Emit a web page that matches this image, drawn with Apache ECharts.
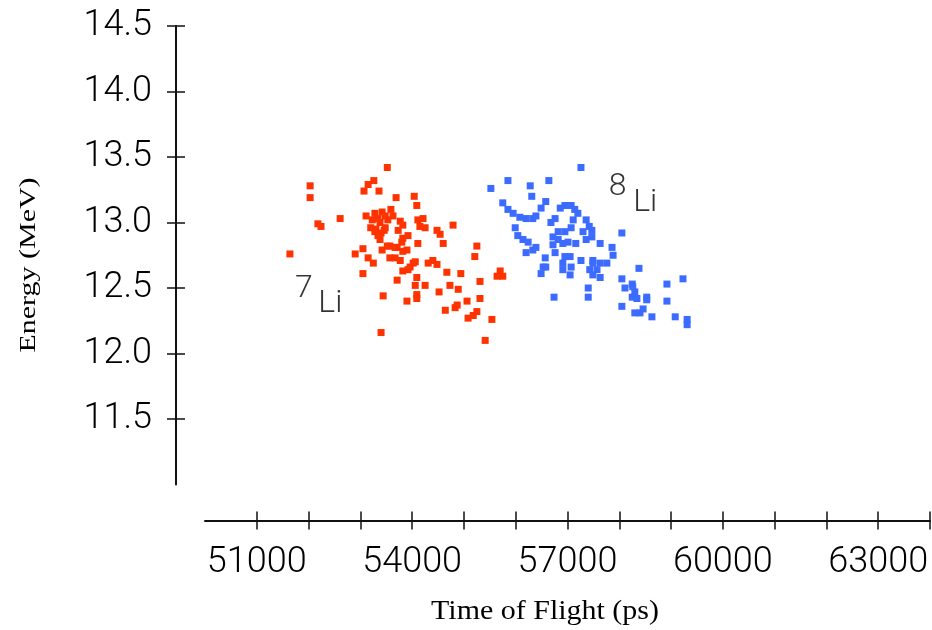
<!DOCTYPE html>
<html>
<head>
<meta charset="utf-8">
<script src="https://cdn.jsdelivr.net/npm/echarts@6/dist/echarts.min.js"></script>
<style>
html,body{margin:0;padding:0;background:#fff;}
#chart{width:932px;height:630px;}
</style>
</head>
<body>
<div id="chart"></div>
<script>
// 7Li events: time of flight (ps) and energy (MeV)
const li7Tof = [51640,52030,52030,52180,52240,52610,53520,53260,53150,53070,53360,53690,54040,54090,53110,53590,53630,53280,53420,53230,
  53380,53530,53300,53460,53340,53770,53730,53820,53820,53920,54110,54210,54250,54150,54480,54540,54600,54790,54110,53570,
  53710,53820,53670,53770,55250,55210,54020,53920,54310,54400,54480,53820,53710,54670,54940,55700,55640,55750,54090,54060,
  54250,54730,54890,55310,54520,54090,54090,53900,55060,55310,54640,54830,54870,55080,55250,55180,55540,55410,53050,53440,
  53400,53050,52900,53150,53250,53380,53520,53670,53800,53900,53280,53420,53480,53570,53960,54060,53340,53480,53200,53400];
const li7Energy = [12.76,13.28,13.19,12.99,12.97,13.03,13.42,13.32,13.29,13.24,13.24,13.19,13.20,13.13,13.05,13.10,13.05,13.07,13.08,13.02,
  13.00,13.02,12.95,12.94,12.90,13.01,12.94,12.98,12.88,12.90,13.02,13.03,12.96,12.97,12.94,12.91,12.84,12.98,12.84,12.82,
  12.81,12.78,12.73,12.71,12.82,12.74,12.69,12.64,12.69,12.71,12.68,12.63,12.56,12.62,12.61,12.63,12.59,12.59,12.58,12.52,
  12.52,12.52,12.49,12.55,12.47,12.45,12.42,12.40,12.40,12.42,12.33,12.35,12.37,12.27,12.32,12.29,12.26,12.10,12.61,12.44,
  12.16,12.80,12.76,12.73,12.69,12.87,12.82,12.81,12.85,12.79,12.93,12.79,12.96,12.73,12.66,12.70,13.03,13.05,12.96,12.92];

// 8Li events
const li8Tof = [57260,55520,55850,56280,56310,56640,56580,56490,55750,55850,55950,56080,56200,56330,56390,55990,56040,56140,56240,56200,
  56330,56390,56860,56950,57070,57140,57200,57110,57070,56950,56820,56720,56820,56720,56910,57010,57160,56760,56680,57360,
  57420,57300,57360,56760,56570,56530,56490,56580,56950,56910,57050,57070,57050,57260,57430,57490,57400,57400,56740,56910,
  57470,57470,57630,57860,57880,57490,57630,57570,57490,57630,57760,58050,58380,58050,58110,58250,58260,58300,58250,58340,
  58530,58530,58920,59230,58920,58050,58300,58400,58460,58630,59080,59310,59310];
const li8Energy = [13.42,13.26,13.32,13.28,13.20,13.32,13.16,13.11,13.15,13.10,13.07,13.04,13.03,13.03,13.05,12.96,12.90,12.87,12.85,12.77,
  12.79,12.81,13.11,13.13,13.13,13.10,13.07,13.02,12.96,12.93,12.93,12.89,12.87,12.83,12.84,12.85,12.84,13.03,13.00,13.02,
  12.97,12.93,12.87,12.77,12.73,12.66,12.61,12.66,12.74,12.69,12.74,12.66,12.60,12.71,12.64,12.69,12.50,12.43,12.43,12.64,
  12.94,12.89,12.84,12.81,12.75,12.71,12.69,12.64,12.60,12.58,12.69,12.92,12.65,12.57,12.50,12.53,12.51,12.47,12.43,12.42,
  12.43,12.41,12.53,12.57,12.40,12.36,12.31,12.31,12.34,12.28,12.28,12.26,12.22];

// axis ticks and labels
const xTicks = [51000,52000,53000,54000,55000,56000,57000,58000,59000,60000,61000,62000,63000,64000];
const xLabels = [51000,54000,57000,60000,63000];
const yTicks = [11.5,12.0,12.5,13.0,13.5,14.0,14.5];

// isotope annotations (text, time of flight, energy)
const noteText = ['7','Li','8','Li'];
const noteTof = [51910,52420,57970,58500];
const noteEnergy = [12.49,12.38,13.27,13.15];

const zip = (a,b) => a.map((v,i) => [v,b[i]]);

const chart = echarts.init(document.getElementById('chart'), null, {renderer:'canvas'});

const tickFont = 'Roboto';
const axisColor = '#111111';
const textColor = '#000000';

const xBase = {
  type:'value', min:50000, max:64000, position:'bottom', offset:36,
  splitLine:{show:false}
};
const yBase = {
  type:'value', min:11, max:14.5, position:'left', offset:29,
  splitLine:{show:false}
};

chart.setOption({
  animation:false,
  backgroundColor:'#ffffff',
  grid:{left:205, right:2, top:26, bottom:145.5, containLabel:false, outerBoundsMode:'none'},
  xAxis:[
    Object.assign({}, xBase, {
      axisLine:{show:true, lineStyle:{color:axisColor, width:2}},
      axisTick:{show:true, inside:false, length:9, customValues:xTicks, lineStyle:{color:axisColor, width:1.5}},
      axisLabel:{show:true, customValues:xLabels, margin:24, fontFamily:tickFont, fontWeight:300, fontSize:36, color:textColor,
        formatter:(v)=>String(v)}
    }),
    Object.assign({}, xBase, {
      axisLine:{show:false},
      axisTick:{show:true, inside:true, length:9, customValues:xTicks, lineStyle:{color:axisColor, width:1.5}},
      axisLabel:{show:false}
    })
  ],
  yAxis:[
    Object.assign({}, yBase, {
      axisLine:{show:true, lineStyle:{color:axisColor, width:2}},
      axisTick:{show:true, inside:false, length:9, customValues:yTicks, lineStyle:{color:axisColor, width:1.5}},
      axisLabel:{show:true, customValues:yTicks, margin:24, fontFamily:tickFont, fontWeight:300, fontSize:36, color:textColor,
        formatter:(v)=>v.toFixed(1)}
    }),
    Object.assign({}, yBase, {
      axisLine:{show:false},
      axisTick:{show:true, inside:true, length:9, customValues:yTicks, lineStyle:{color:axisColor, width:1.5}},
      axisLabel:{show:false}
    })
  ],
  graphic:[
    {type:'text', x:29, y:265, rotation:Math.PI/2, scaleX:1.25,
      style:{text:'Energy (MeV)', font:'24px "Liberation Serif"', fill:'#000', align:'center', verticalAlign:'middle'}},
    {type:'text', x:545, y:612, scaleX:1.07,
      style:{text:'Time of Flight (ps)', font:'28px "Liberation Serif"', fill:'#000', align:'center', verticalAlign:'middle'}}
  ],
  series:[
    {name:'7Li', type:'scatter', xAxisIndex:0, yAxisIndex:0, symbol:'rect', symbolSize:7,
      itemStyle:{color:'#ff3300', opacity:1}, data:zip(li7Tof, li7Energy)},
    {name:'8Li', type:'scatter', xAxisIndex:0, yAxisIndex:0, symbol:'rect', symbolSize:7,
      itemStyle:{color:'#3b6bff', opacity:1}, data:zip(li8Tof, li8Energy)},
    {name:'notes', type:'scatter', xAxisIndex:0, yAxisIndex:0, symbolSize:0, silent:true,
      label:{show:true, position:'inside', formatter:(p)=>p.name, fontFamily:tickFont, fontWeight:300, fontSize:32, color:textColor},
      data:noteText.map((t,i)=>({name:t, value:[noteTof[i], noteEnergy[i]]}))}
  ]
});
</script>
</body>
</html>
